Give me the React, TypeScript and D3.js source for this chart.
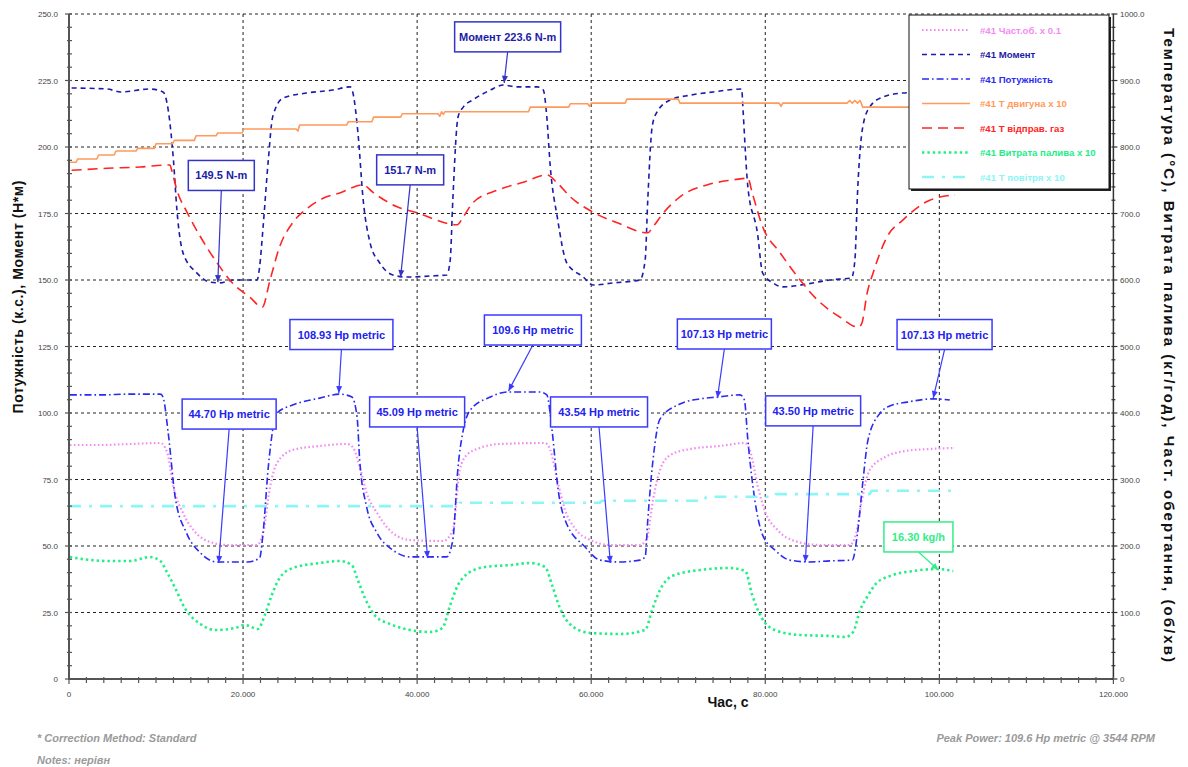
import React from 'react';
import * as d3 from 'd3';

const W = 1188;
const H = 767;
const PLOT = { left: 69, right: 1113.4, top: 14, bottom: 679 };

// ---- axes / ticks ----
const timeTicks = [0, 20, 40, 60, 80, 100, 120];
const timeTickLabels = ['0', '20.000', '40.000', '60.000', '80.000', '100.000', '120.000'];
const leftTicks = [0, 25, 50, 75, 100, 125, 150, 175, 200, 225, 250];
const leftTickLabels = ['0', '25.0', '50.0', '75.0', '100.0', '125.0', '150.0', '175.0', '200.0', '225.0', '250.0'];
const rightTicks = [0, 100, 200, 300, 400, 500, 600, 700, 800, 900, 1000];
const rightTickLabels = ['0', '100.0', '200.0', '300.0', '400.0', '500.0', '600.0', '700.0', '800.0', '900.0', '1000.0'];

// ---- series (time s, value) ----
// Момент (Н*м), left axis
const torque: [number, number][] = [
  [0.3, 222.2], [4.4, 221.8], [5.9, 220.7], [9.3, 221.8], [10.8, 220.7], [11.4, 213.9], [12.0, 195.1], [12.4, 176.3],
  [13.1, 160.2], [14.7, 152.6], [16.2, 149.2], [17.3, 148.9], [18.8, 150], [21.6, 150], [21.9, 154.9], [22.3, 169.9],
  [22.9, 195.1], [23.4, 211.3], [24.6, 218.4], [27.3, 220.3], [30.3, 221.4], [32.3, 222.6], [32.6, 220.7], [33.2, 205.3],
  [33.8, 180.1], [34.6, 163.9], [35.7, 156.4], [37.2, 151.9], [38.8, 151.1], [41.5, 151.5], [43.4, 151.9], [43.8, 157.5],
  [44.1, 180.1], [44.7, 211.3], [45.3, 215], [46.4, 217.7], [48.4, 221.4], [49.9, 223.3], [51.5, 222.6], [53.8, 222.6],
  [54.5, 221.4], [54.9, 211.3], [55.3, 192.5], [56.1, 173.7], [57.2, 156.4], [59.1, 151.1], [60.2, 148.1], [62.5, 148.9],
  [65.6, 150], [66.2, 157.5], [66.5, 180.1], [67.0, 207.5], [67.5, 212.8], [69.1, 217.7], [71.4, 219.5], [74.0, 220.7],
  [77.3, 221.8], [77.4, 216.5], [78.0, 185], [79.1, 167.7], [79.7, 152.6], [80.9, 148.9], [82.0, 147.4], [85.5, 148.9],
  [87.4, 150], [89.9, 150.8], [90.3, 157.5], [90.6, 182.7], [91.2, 207.5], [92.0, 215], [93.5, 218.8], [95.8, 220.3],
  [99.0, 220.7], [101.8, 221],
];

// Потужність (к.с.), left axis
const power: [number, number][] = [
  [0.1, 106.8], [3.6, 106.8], [7.0, 107.1], [10.5, 107.1], [10.8, 106], [11.4, 92.5], [12.2, 68.4], [13.5, 54.9],
  [15.1, 47.4], [17.0, 44], [20.5, 44], [21.9, 45.5], [22.3, 54.9], [22.9, 79.7], [23.9, 100], [25.7, 103],
  [28.8, 105.6], [31.1, 107.1], [32.5, 106], [33.1, 98.5], [33.4, 82.3], [34.2, 64.7], [35.4, 54.9], [37.2, 48.5],
  [39.2, 45.9], [43.4, 45.9], [44.1, 52.3], [44.7, 79.7], [45.3, 93.6], [46.1, 101.1], [48.4, 106], [50.4, 107.9],
  [54.1, 107.9], [54.9, 106.8], [55.5, 93.6], [56.2, 71.1], [57.0, 59.8], [59.3, 49.6], [61.0, 44.7], [63.3, 44],
  [65.6, 44.7], [66.2, 45.9], [66.5, 59.8], [67.1, 82.3], [67.9, 97.7], [70.2, 103.4], [72.5, 105.3], [74.5, 106],
  [77.1, 106.8], [77.6, 104.9], [78.0, 89.8], [78.8, 67.3], [79.7, 54.1], [81.1, 48.5], [82.8, 44.7], [85.1, 44],
  [87.4, 44.4], [90.0, 44.7], [90.6, 54.9], [91.2, 73.7], [91.8, 89.8], [93.2, 100], [94.3, 102.6], [96.3, 104.1],
  [99.3, 105.3], [101.2, 104.9],
];

// Част.об. x 0.1, right axis
const rpm: [number, number][] = [
  [0.1, 351.9], [3.6, 351.9], [7.0, 353.4], [10.5, 354.9], [11.3, 339.8], [12.0, 288.7], [13.1, 249.6], [14.3, 224],
  [16.2, 206], [18.2, 201.5], [21.6, 201.5], [22.3, 219.5], [23.1, 288.7], [23.9, 324.8], [25.7, 344.4], [28.8, 350.4],
  [31.9, 353.4], [32.6, 348.9], [33.4, 318.8], [34.2, 279.7], [35.4, 249.6], [37.2, 219.5], [39.2, 209], [43.0, 207.5],
  [44.1, 224], [44.9, 314.3], [45.7, 336.8], [47.2, 347.4], [49.5, 353.4], [54.7, 354.9], [55.3, 344.4], [56.1, 299.2],
  [57.0, 254.1], [58.1, 227], [59.9, 209], [62.2, 201.5], [65.6, 201.5], [66.4, 212], [67.1, 269.2], [67.9, 314.3],
  [69.1, 336.8], [71.4, 345.9], [74.8, 350.4], [77.7, 354.9], [78.3, 341.4], [79.1, 291.7], [80.0, 251.1], [81.4, 224],
  [83.4, 207.5], [86.3, 201.5], [89.7, 201.5], [90.4, 216.5], [91.1, 269.2], [92.0, 314.3], [93.8, 333.8], [96.1, 342.9],
  [98.9, 345.9], [101.8, 347.4],
];

// Т двигуна x 10, right axis
const engineT: [number, number][] = [
  [0, 777], [0.8, 777], [1.0, 782], [3.2, 782], [3.4, 788], [5.2, 788], [5.4, 794], [7.7, 794], [7.9, 798],
  [9.8, 798], [10.0, 805], [11.9, 805], [12.1, 810], [14.4, 810], [14.6, 817], [16.9, 817], [17.1, 821], [19.9, 821],
  [20.1, 827], [26.1, 827], [26.3, 824], [26.5, 833], [31.9, 833], [32.1, 838], [34.8, 838], [35.0, 845], [38.1, 845],
  [38.3, 850], [42.4, 850], [42.6, 846], [42.8, 853], [43.0, 849], [43.2, 853], [52.8, 853], [53.0, 860], [57.4, 860],
  [57.6, 865], [59.6, 865], [59.8, 861], [60.0, 866], [63.9, 866], [64.1, 872], [70.0, 872], [70.2, 866], [81.6, 866],
  [81.8, 861], [82.0, 866], [89.4, 866], [89.7, 870], [90.0, 866], [90.3, 870], [90.6, 866], [90.9, 870], [91.2, 860],
  [101.8, 860],
];

// Т відправ. газ, right axis
const exhaustT: [number, number][] = [
  [0.3, 765], [4.4, 768], [8.2, 770], [11.6, 773], [11.8, 765], [12.4, 735], [13.6, 701], [15.1, 665], [17.0, 626],
  [18.8, 595], [20.8, 574], [22.2, 559], [23.1, 600], [24.2, 650], [25.7, 686], [27.4, 708], [29.2, 723], [31.1, 731],
  [33.8, 743], [34.9, 732], [37.7, 710], [40.0, 701], [44.6, 683], [45.3, 695], [46.4, 716], [49.2, 735], [52.2, 747],
  [54.9, 758], [56.1, 746], [57.6, 725], [60.2, 702], [63.0, 686], [66.5, 671], [67.1, 680], [68.3, 701], [70.2, 725],
  [73.3, 743], [76.0, 750], [78.0, 753], [78.5, 731], [79.7, 680], [81.7, 641], [83.7, 605], [86.0, 570], [88.6, 544],
  [90.7, 529], [91.1, 535], [91.7, 580], [92.4, 611], [94.0, 665], [95.8, 690], [98.9, 720], [101.8, 728],
];

// Витрата палива x 10, right axis
const fuel: [number, number][] = [
  [0.1, 183.5], [2.4, 179], [4.7, 177.4], [7.0, 177.4], [9.3, 183.5], [10.5, 177.4], [11.3, 159.4], [12.2, 136.8],
  [13.3, 106.8], [15.1, 82.7], [16.8, 73.7], [19.1, 76.7], [20.2, 81.2], [21.7, 75.2], [22.5, 96.2], [23.3, 126.3],
  [24.2, 151.9], [25.7, 166.9], [28.8, 174.4], [31.1, 177.4], [32.5, 171.4], [33.1, 151.9], [34.0, 121.8], [35.2, 94.7],
  [36.9, 82.7], [39.2, 73.7], [41.5, 70.7], [42.9, 76.7], [43.8, 111.3], [44.7, 141.4], [45.9, 159.4], [47.8, 168.4],
  [50.7, 171.4], [53.0, 174.4], [54.7, 168.4], [55.5, 141.4], [56.4, 106.8], [57.8, 79.7], [59.9, 69.2], [63.3, 67.7],
  [66.2, 73.7], [67.0, 103.8], [67.9, 133.8], [69.3, 154.9], [72.5, 163.9], [76.0, 166.9], [77.7, 162.4], [78.5, 126.3],
  [79.6, 91.7], [81.1, 73.7], [84.0, 66.2], [87.4, 64.7], [89.2, 63.2], [90.1, 70.7], [90.9, 103.8], [91.7, 123.3],
  [92.8, 144.4], [94.7, 156.4], [97.0, 162.4], [99.7, 165.4], [101.6, 162.4],
];

// Т повітря x 10, right axis
const airT: [number, number][] = [
  [0, 260], [44.7, 260], [44.9, 265], [61.0, 265], [61.2, 268], [73.0, 268], [73.2, 274], [81.0, 274], [81.2, 278],
  [92.0, 278], [92.2, 283], [101.8, 283],
];

// ---- annotations ----
const annLabels = ['149.5 N-m', '151.7 N-m', 'Момент 223.6 N-m', '108.93 Hp metric', '44.70 Hp metric', '45.09 Hp metric',
  '109.6 Hp metric', '43.54 Hp metric', '107.13 Hp metric', '43.50 Hp metric', '107.13 Hp metric', '16.30 kg/h'];
const annKind = ['torque', 'torque', 'torque', 'power', 'power', 'power', 'power', 'power', 'power', 'power', 'power', 'fuel'];
// arrow tip (time, left-axis value)
const annTip: [number, number][] = [
  [17.1, 149.2], [38.1, 151.1], [50.0, 224.1], [31.0, 107.5], [17.2, 43.6], [41.2, 45.5],
  [50.5, 108.3], [62.2, 43.6], [74.5, 105.6], [84.6, 44.0], [99.3, 105.6], [99.9, 41.0],
];
// box centre (time, left-axis value)
const annBox: [number, number][] = [
  [17.5, 189.3], [39.2, 191.4], [50.4, 241.4], [31.3, 129.5], [18.4, 99.6], [40.0, 100.4],
  [53.3, 131.2], [60.9, 100.4], [75.3, 129.7], [85.5, 100.8], [100.6, 129.5], [97.6, 53.4],
];
const annBoxWidth = [66, 67, 106, 103, 94, 95, 97, 97, 94, 95, 95, 69];

const legendLabels = ['#41 Част.об. x 0.1', '#41  Момент', '#41  Потужність', '#41 Т двигуна x 10',
  '#41 Т відправ. газ', '#41 Витрата палива x 10', '#41 Т повітря x 10'];

const FONT = 'Arial, "Liberation Sans", sans-serif';

export default function App() {
  const x = d3.scaleLinear().domain([0, 120]).range([PLOT.left, PLOT.right]);
  const yL = d3.scaleLinear().domain([0, 250]).range([PLOT.bottom, PLOT.top]);
  const yR = d3.scaleLinear().domain([0, 1000]).range([PLOT.bottom, PLOT.top]);

  const series = [
    { data: rpm, y: yR, color: '#f28cf2', width: 2.2, dash: '1.6,2.4', curve: d3.curveMonotoneX },
    { data: torque, y: yL, color: '#1c1ca8', width: 1.6, dash: '5,4', curve: d3.curveMonotoneX },
    { data: power, y: yL, color: '#2a2af2', width: 1.6, dash: '7,3,1.6,3', curve: d3.curveMonotoneX },
    { data: engineT, y: yR, color: '#ff9a5c', width: 1.6, dash: '', curve: d3.curveLinear },
    { data: exhaustT, y: yR, color: '#ff2424', width: 1.6, dash: '10,6', curve: d3.curveMonotoneX },
    { data: fuel, y: yR, color: '#22ee88', width: 2.6, dash: '2.4,3', curve: d3.curveMonotoneX },
    { data: airT, y: yR, color: '#8cf6f6', width: 2.6, dash: '12,8,3,8', curve: d3.curveLinear },
  ];
  const legendColors = ['#f28cf2', '#1c1ca8', '#2a2af2', '#ff9a5c', '#ff2424', '#22ee88', '#8cf6f6'];

  const kindStyle: Record<string, { stroke: string; text: string }> = {
    torque: { stroke: '#3434c8', text: '#1c1ca8' },
    power: { stroke: '#3a3aff', text: '#2222f0' },
    fuel: { stroke: '#33ee88', text: '#33ee88' },
  };

  const minorLeft = d3.range(0, 251, 5);
  const minorRight = d3.range(0, 1001, 20);
  const minorTime = d3.range(0, 121, 2);

  const gridDash = '3,3';

  return (
    <svg width={W} height={H} style={{ position: 'absolute', left: 0, top: 0, background: '#fff' }} fontFamily={FONT}>
      <rect x={0} y={0} width={W} height={H} fill="#fff" />
      {/* grid */}
      {leftTicks.filter((t) => t > 0).map((t) => (
        <line key={'gh' + t} x1={PLOT.left} x2={PLOT.right} y1={yL(t)} y2={yL(t)} stroke="#222" strokeWidth={1} strokeDasharray={gridDash} />
      ))}
      {timeTicks.filter((t) => t > 0 && t < 120).map((t) => (
        <line key={'gv' + t} x1={x(t)} x2={x(t)} y1={PLOT.top} y2={PLOT.bottom} stroke="#222" strokeWidth={1} strokeDasharray={gridDash} />
      ))}

      {/* series */}
      {series.map((s, i) => {
        const gen = d3.line<[number, number]>().x((d) => x(d[0])).y((d) => s.y(d[1])).curve(s.curve);
        return (
          <path key={'s' + i} d={gen(s.data) || ''} fill="none" stroke={s.color} strokeWidth={s.width}
            strokeDasharray={s.dash || undefined} strokeLinejoin="round" />
        );
      })}

      {/* axes */}
      <line x1={PLOT.left} x2={PLOT.left} y1={PLOT.top} y2={PLOT.bottom + 1} stroke="#555" strokeWidth={2} />
      <line x1={PLOT.left} x2={PLOT.right} y1={PLOT.bottom} y2={PLOT.bottom} stroke="#555" strokeWidth={2} />
      <line x1={PLOT.right} x2={PLOT.right} y1={PLOT.top} y2={PLOT.bottom} stroke="#333" strokeWidth={1.5} />
      {minorLeft.map((t) => (
        <line key={'lt' + t} x1={PLOT.left - (t % 25 === 0 ? 4 : 2)} x2={PLOT.left + 3} y1={yL(t)} y2={yL(t)} stroke="#555" strokeWidth={1.2} />
      ))}
      {minorRight.map((t) => (
        <line key={'rt' + t} x1={PLOT.right - 2} x2={PLOT.right + (t % 100 === 0 ? 4 : 2)} y1={yR(t)} y2={yR(t)} stroke="#333" strokeWidth={1.2} />
      ))}
      {minorTime.map((t) => (
        <line key={'tt' + t} x1={x(t)} x2={x(t)} y1={PLOT.bottom - 2} y2={PLOT.bottom + (t % 20 === 0 ? 5 : 4)} stroke="#555" strokeWidth={1.2} />
      ))}
      {leftTicks.map((t, i) => (
        <text key={'ll' + t} x={58} y={yL(t) + 3} fontSize={8} fill="#444" textAnchor="end">{leftTickLabels[i]}</text>
      ))}
      {rightTicks.map((t, i) => (
        <text key={'rl' + t} x={1120} y={yR(t) + 3} fontSize={8} fill="#444" textAnchor="start">{rightTickLabels[i]}</text>
      ))}
      {timeTicks.map((t, i) => (
        <text key={'xl' + t} x={x(t)} y={697} fontSize={8} fill="#444" textAnchor="middle">{timeTickLabels[i]}</text>
      ))}

      {/* axis titles */}
      <text x={728} y={707} fontSize={14} fontWeight="bold" textAnchor="middle" fill="#111">Час, с</text>
      <text transform="translate(23,297) rotate(-90)" fontSize={14} fontWeight="bold" textAnchor="middle" fill="#111"
        textLength={233} lengthAdjust="spacing">
        Потужність (к.с.), Момент (Н*м)
      </text>
      <text transform="translate(1164,345) rotate(90)" fontSize={15} fontWeight="bold" textAnchor="middle" fill="#111"
        textLength={634} lengthAdjust="spacing">
        Температура (°C), Витрата палива (кг/год), Част. обертання, (об/хв)
      </text>

      {/* annotations */}
      {annLabels.map((lab, i) => {
        const st = kindStyle[annKind[i]];
        const bw = annBoxWidth[i];
        const bh = 30;
        const cx = x(annBox[i][0]);
        const cy = yL(annBox[i][1]);
        const tx = x(annTip[i][0]);
        const ty = yL(annTip[i][1]);
        const sx = cx;
        const sy = cy + bh / 2;
        const ang = Math.atan2(ty - sy, tx - sx);
        const hl = 7, hw = 3;
        const bxp = tx - hl * Math.cos(ang);
        const byp = ty - hl * Math.sin(ang);
        const p1 = [bxp + hw * Math.sin(ang), byp - hw * Math.cos(ang)];
        const p2 = [bxp - hw * Math.sin(ang), byp + hw * Math.cos(ang)];
        return (
          <g key={'a' + i}>
            <line x1={sx} y1={sy} x2={tx} y2={ty} stroke={st.stroke} strokeWidth={1.2} />
            <polygon points={`${tx},${ty} ${p1[0]},${p1[1]} ${p2[0]},${p2[1]}`} fill={st.stroke} />
            <rect x={cx - bw / 2} y={cy - bh / 2} width={bw} height={bh} fill="#fff" stroke={st.stroke} strokeWidth={1.5} />
            <text x={cx} y={cy + 4} fontSize={11} fontWeight="bold" fill={st.text} textAnchor="middle">{lab}</text>
          </g>
        );
      })}

      {/* legend */}
      <rect x={911} y={17} width={200} height={174} fill="#222" />
      <rect x={909} y={15} width={200} height={174} fill="#fff" stroke="#111" strokeWidth={1} />
      {legendLabels.map((lab, i) => {
        const s = series[i];
        const ly = 30 + i * 24.5;
        return (
          <g key={'lg' + i}>
            <line x1={922} x2={970} y1={ly} y2={ly} stroke={legendColors[i]} strokeWidth={s.width} strokeDasharray={s.dash || undefined} />
            <text x={980} y={ly + 3.5} fontSize={9.6} fontWeight="bold" fill={legendColors[i]}>{lab}</text>
          </g>
        );
      })}

      {/* footer */}
      <text x={37} y={742} fontSize={11} fontWeight="bold" fontStyle="italic" fill="#9a9a9a">* Correction Method: Standard</text>
      <text x={37} y={764} fontSize={11} fontWeight="bold" fontStyle="italic" fill="#9a9a9a">Notes: нерівн</text>
      <text x={1155} y={742} fontSize={11} fontWeight="bold" fontStyle="italic" fill="#9a9a9a" textAnchor="end">
        Peak Power: 109.6 Hp metric @ 3544 RPM
      </text>
    </svg>
  );
}
